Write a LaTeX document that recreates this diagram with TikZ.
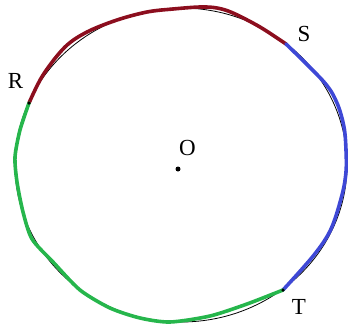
\documentclass[tikz,border=0pt]{standalone}
\usepackage{fontspec}
\setmainfont{Liberation Serif}
\begin{document}
\begin{tikzpicture}[x=1pt,y=-1pt,
  base/.style={draw=black,line width=0.8pt},
  arcline/.style={line width=3.6pt,line cap=round,line join=round},
  redarc/.style={arcline,draw={rgb,255:red,140;green,14;blue,30}},
  bluearc/.style={arcline,draw={rgb,255:red,62;green,72;blue,214}},
  greenarc/.style={arcline,draw={rgb,255:red,38;green,182;blue,76}},
  lbl/.style={inner sep=0pt,font=\fontsize{23}{26}\selectfont},
  pt/.style={circle,fill=black,inner sep=0pt,minimum size=#1}]
\useasboundingbox (0,0) rectangle (348,325);
\coordinate (C) at (181,165);
\coordinate (R) at (29,103);
\coordinate (S) at (286,44);
\coordinate (T) at (283,290);
\draw[base] (C) ellipse [x radius=166pt, y radius=157pt];
\draw[redarc] plot[smooth,tension=0.55] coordinates {(R) (43,75) (65,47) (87,32) (117,20) (147,12) (173,9) (200,7) (217,8) (233,13) (260,27) (S)};
\draw[bluearc] plot[smooth,tension=0.55] coordinates {(S) (324,82) (337,103) (344,127) (346,150) (346,172) (342,195) (331,229) (314,255) (T)};
\draw[greenarc] plot[smooth,tension=0.45] coordinates {(T) (247,304) (210,316) (170,322) (140,318) (110,308) (80,290) (53,262) (32,239) (23,212) (17,182) (15,157) (20,130) (R)};
\node[pt=3.5pt] (Rd) at (R) {};
\node[pt=3.5pt] (Td) at (T) {};
\node[pt=5pt] (O) at (178,169) {};
\node[lbl] (Rl) at (15.5,80.5) {R};
\node[lbl] (Sl) at (304,34) {S};
\node[lbl] (Ol) at (187.5,148) {O};
\node[lbl] (Tl) at (299,306.5) {T};
\end{tikzpicture}
\end{document}
